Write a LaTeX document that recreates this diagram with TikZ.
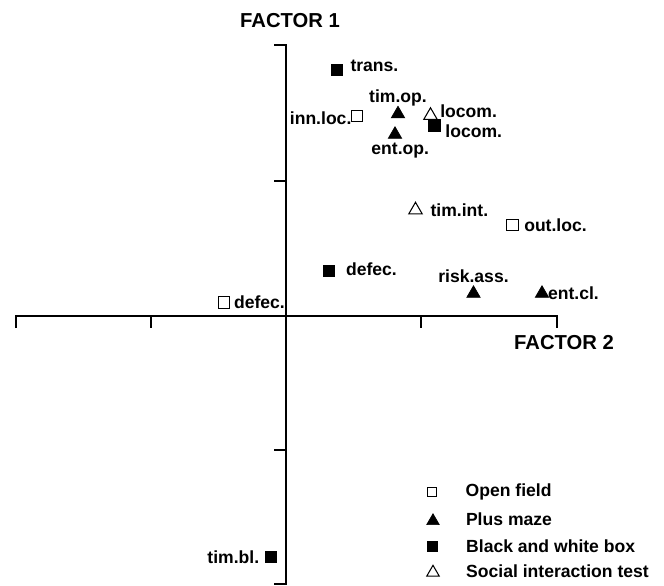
\documentclass[tikz,border=0pt]{standalone}
\usepackage{fontspec}
\setmainfont{Liberation Sans}
\usepackage{tikz}
\usetikzlibrary{positioning,shapes.geometric}
\tikzstyle{opensq}=[rectangle,draw=black,line width=0.6pt,fill=white,minimum size=6.4pt,inner sep=0pt]
\tikzstyle{fullsq}=[rectangle,draw=black,fill=black,minimum size=6.6pt,inner sep=0pt]
\tikzstyle{opentri}=[regular polygon,regular polygon sides=3,draw=black,line width=0.6pt,fill=white,minimum size=8.8pt,inner sep=0pt]
\tikzstyle{fulltri}=[regular polygon,regular polygon sides=3,draw=black,fill=black,minimum size=8.8pt,inner sep=0pt]
\tikzstyle{lab}=[font=\bfseries\fontsize{10}{11}\selectfont,inner sep=1pt]
\tikzstyle{title}=[font=\bfseries\fontsize{11.5}{13}\selectfont,inner sep=1pt]
\tikzstyle{axis}=[line width=1.4pt]

\begin{document}
\begin{tikzpicture}[x=0.02cm,y=-0.02cm]
  \useasboundingbox (0,0) rectangle (664,586);

  % axes
  \coordinate (ytop) at (286,45);
  \coordinate (ybot) at (286,584);
  \coordinate (xlft) at (16,316);
  \coordinate (xrgt) at (557,316);
  \draw[axis] (274,45) -- (ytop) -- (ybot) -- (274,584);
  \draw[axis] (16,328) -- (xlft) -- (xrgt) -- (557,328);
  \draw[axis] (286,181) -- (274,181);
  \draw[axis] (286,450) -- (274,450);
  \draw[axis] (151,316) -- (151,328);
  \draw[axis] (421,316) -- (421,328);

  \node[title] (f1) at (290,21) {FACTOR 1};
  \node[title] (f2) at (564,343) {FACTOR 2};

  % points
  \node[fullsq]  (trans)  at (337,70)    {};
  \node[opensq]  (innloc) at (357,116)   {};
  \node[fulltri] (timop)  at (398,114)   {};
  \node[fulltri] (entop)  at (395,134.5) {};
  \node[opentri] (locoms) at (430.5,115.5) {};
  \node[fullsq]  (locomb) at (434.5,125.5) {};
  \node[opentri] (timint) at (415.5,210) {};
  \node[opensq]  (outloc) at (512.5,225) {};
  \node[fullsq]  (defecb) at (329,271)   {};
  \node[fulltri] (riskass) at (473.5,293.5) {};
  \node[fulltri] (entcl)  at (542,293.5) {};
  \node[opensq]  (defeco) at (224,302.5) {};
  \node[fullsq]  (timbl)  at (271,557)   {};

  % point labels
  \node[lab] (transl)  [right=3pt of trans,yshift=2.5pt] {trans.};
  \node[lab] (innlocl) [left=-1.5pt of innloc,yshift=-1pt] {inn.loc.};
  \node[lab] (timopl)  [above=-1.5pt of timop] {tim.op.};
  \node[lab] (entopl)  [below=1pt of entop,xshift=3pt] {ent.op.};
  \node[lab] (locomsl) [right=1.5pt of locoms,yshift=2.5pt] {locom.};
  \node[lab] (locombl) [right=1.5pt of locomb,yshift=-3pt] {locom.};
  \node[lab] (timintl) [right=4.5pt of timint] {tim.int.};
  \node[lab] (outlocl) [right=2pt of outloc] {out.loc.};
  \node[lab] (defecbl) [right=5pt of defecb,yshift=1pt] {defec.};
  \node[lab] (riskassl) [above=0pt of riskass] {risk.ass.};
  \node[lab] (entcll)  [right=-0.5pt of entcl] {ent.cl.};
  \node[lab] (defecol) [right=1pt of defeco] {defec.};
  \node[lab] (timbll)  [left=2pt of timbl] {tim.bl.};

  % legend
  \node[opensq,minimum size=5.3pt]  (legof) at (432,492)   {};
  \node[fulltri,minimum size=8.2pt] (legpm) at (433,521)   {};
  \node[fullsq,minimum size=5.6pt] (legbw) at (432.5,546) {};
  \node[opentri,minimum size=8.2pt] (legsi) at (433,572.5) {};
  \node[lab] (legofl) [right=15pt of legof] {Open field};
  \node[lab] (legpml) [right=15pt of legpm,yshift=1pt] {Plus maze};
  \node[lab] (legbwl) [right=15pt of legbw] {Black and white box};
  \node[lab] (legsil) [right=15pt of legsi,yshift=1pt] {Social interaction test};
\end{tikzpicture}
\end{document}
